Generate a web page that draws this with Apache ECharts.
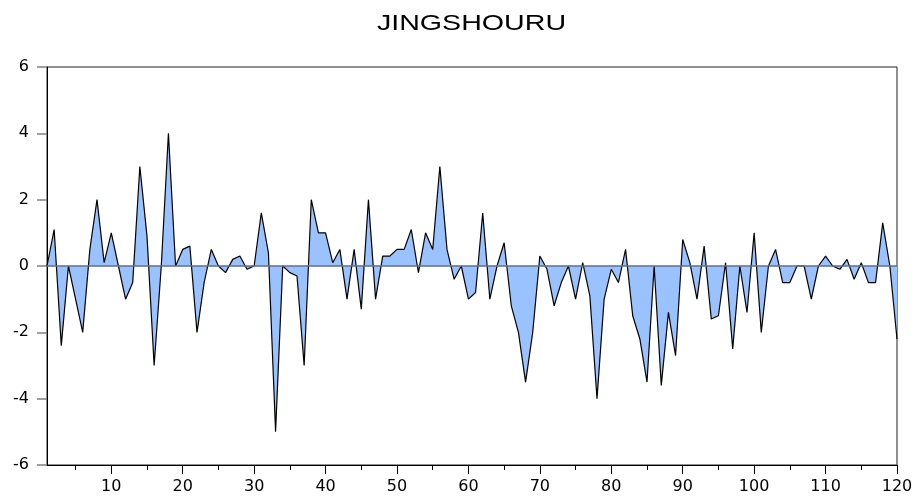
<!DOCTYPE html>
<html>
<head>
<meta charset="utf-8">
<script src="https://cdn.jsdelivr.net/npm/echarts@6/dist/echarts.min.js"></script>
<style>html,body{margin:0;padding:0;background:#fff}#c{width:918px;height:498px}</style>
</head>
<body>
<div id="c"></div>
<script>
const titleText = 'JINGSHOURU';
const periods = Array.from({length: 120}, (_, i) => String(i + 1));
const values = [
  0, 1.1, -2.4, 0, -1.0, -2.0, 0.5, 2.0, 0.1, 1.0,
  0, -1.0, -0.5, 3.0, 0.9, -3.0, 0, 4.0, 0, 0.5,
  0.6, -2.0, -0.5, 0.5, 0, -0.2, 0.2, 0.3, -0.1, 0,
  1.6, 0.4, -5.0, 0, -0.2, -0.3, -3.0, 2.0, 1.0, 1.0,
  0.1, 0.5, -1.0, 0.5, -1.3, 2.0, -1.0, 0.3, 0.3, 0.5,
  0.5, 1.1, -0.2, 1.0, 0.5, 3.0, 0.5, -0.4, 0, -1.0,
  -0.8, 1.6, -1.0, 0, 0.7, -1.2, -2.0, -3.5, -2.0, 0.3,
  -0.1, -1.2, -0.5, 0, -1.0, 0.1, -0.9, -4.0, -1.0, -0.1,
  -0.5, 0.5, -1.5, -2.2, -3.5, 0, -3.6, -1.4, -2.7, 0.8,
  0.1, -1.0, 0.6, -1.6, -1.5, 0.1, -2.5, 0, -1.4, 1.0,
  -2.0, 0, 0.5, -0.5, -0.5, 0, 0, -1.0, 0, 0.3,
  0, -0.1, 0.2, -0.4, 0.1, -0.5, -0.5, 1.3, 0, -2.2
];
const yTicks = [-6, -4, -2, 0, 2, 4, 6];

const chart = echarts.init(document.getElementById('c'), null, {renderer: 'canvas'});
const labelFont = {fontFamily: 'DejaVu Sans', fontSize: 16, color: '#000'};
chart.setOption({
  animation: false,
  backgroundColor: '#fff',
  graphic: [{
    type: 'text',
    x: 471.5,
    y: 24,
    scaleX: 1.3,
    style: {
      text: titleText,
      font: '22px "Liberation Sans", Arial, sans-serif',
      fill: '#000',
      textAlign: 'center',
      textVerticalAlign: 'middle'
    }
  }],
  grid: {
    left: 47, right: 21, top: 67, bottom: 33,
    show: true, borderColor: '#222', borderWidth: 1, backgroundColor: 'transparent'
  },
  xAxis: [{
    type: 'category',
    data: periods,
    boundaryGap: false,
    axisLine: {onZero: false, lineStyle: {color: '#000', width: 1}},
    axisTick: {show: true, inside: false, length: 9, lineStyle: {color: '#000'},
      interval: (i) => (i + 1) % 10 === 0},
    axisLabel: Object.assign({margin: 14, interval: (i) => (i + 1) % 10 === 0}, labelFont),
    splitLine: {show: false}
  }, {
    type: 'category',
    data: periods,
    boundaryGap: false,
    position: 'bottom',
    axisLine: {show: false, onZero: false},
    axisTick: {show: true, inside: false, length: 5, lineStyle: {color: '#000'},
      interval: (i) => (i + 1) % 5 === 0},
    axisLabel: {show: false},
    splitLine: {show: false}
  }],
  yAxis: {
    type: 'value',
    min: yTicks[0], max: yTicks[yTicks.length - 1], interval: 2,
    axisLine: {show: true, onZero: false, lineStyle: {color: '#000', width: 1}},
    axisTick: {show: true, inside: false, length: 10, lineStyle: {color: '#808080', width: 1.5}},
    axisLabel: Object.assign({margin: 18}, labelFont),
    splitLine: {show: false}
  },
  series: [{
    type: 'line',
    data: values,
    xAxisIndex: 0,
    symbol: 'none',
    lineStyle: {color: '#000', width: 1.2},
    areaStyle: {color: '#99C2FF', opacity: 1, origin: 0},
    markLine: {
      silent: true,
      symbol: 'none',
      label: {show: false},
      lineStyle: {color: '#5B6F8F', width: 1.5, type: 'solid'},
      data: [{yAxis: 0}]
    }
  }]
});
</script>
</body>
</html>
